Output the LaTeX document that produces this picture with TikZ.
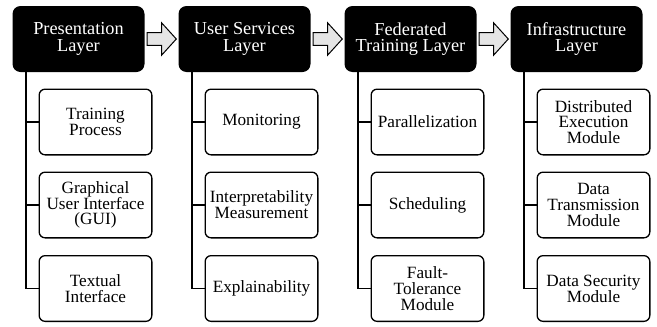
\documentclass[tikz,border=0pt]{standalone}
\usepackage{fontspec}
\setmainfont{Liberation Serif}
\usetikzlibrary{calc}
\begin{document}
\begin{tikzpicture}[x=1pt,y=-1pt,
  header/.style={fill=black,text=white,rounded corners=8pt,minimum width=132pt,minimum height=66pt,align=center,inner sep=0pt,font=\fontsize{18.3}{16.6}\selectfont},
  item/.style={draw=black,line width=1.3pt,fill=white,rounded corners=6pt,minimum width=112.7pt,minimum height=65.7pt,align=center,inner sep=0pt,font=\fontsize{17.2}{15.8}\selectfont},
  spine/.style={draw=black,line width=1.5pt},
  blockarrow/.style={draw=black,line width=1pt,fill=black!10,line join=miter}]
\useasboundingbox (0,0) rectangle (657,327);
% headers
\node[header] (h1) at (78.5,39) {Presentation\\Layer};
\node[header] (h2) at (244.5,39) {User Services\\Layer};
\node[header] (h3) at (410.5,39) {Federated\\Training Layer};
\node[header] (h4) at (576.5,39) {Infrastructure\\Layer};
% items
\node[item] (c11) at (95.5,122) {Training\\Process};
\node[item] (c12) at (95.5,205) {Graphical\\User Interface\\(GUI)};
\node[item] (c13) at (95.5,288.5) {Textual\\Interface};
\node[item] (c21) at (261.5,122) {Monitoring};
\node[item] (c22) at (261.5,205) {Interpretability\\Measurement};
\node[item] (c23) at (261.5,288.5) {Explainability};
\node[item] (c31) at (427.5,122) {Parallelization};
\node[item] (c32) at (427.5,205) {Scheduling};
\node[item] (c33) at (427.5,288.5) {Fault-\\Tolerance\\Module};
\node[item] (c41) at (593.5,122) {Distributed\\Execution\\Module};
\node[item] (c42) at (593.5,205) {Data\\Transmission\\Module};
\node[item] (c43) at (593.5,288.5) {Data Security\\Module};
% spines
\foreach \i in {1,2,3,4}{
  \coordinate (s\i) at ($(h\i.south west)+(13.5,0)$);
  \draw[spine] (s\i) |- (c\i3.west);
  \draw[spine] (s\i |- c\i1.west) -- (c\i1.west);
  \draw[spine] (s\i |- c\i2.west) -- (c\i2.west);
}
% block arrows
\foreach \a/\b in {h1/h2,h2/h3,h3/h4}{
  \coordinate (L) at ($(\a.east)+(2.5,0)$);
  \coordinate (T) at ($(\b.west)+(-2,0)$);
  \draw[blockarrow] ($(L)+(0,-6.3)$) -- ($(L)+(14.4,-6.3)$) -- ($(L)+(14.4,-16.2)$) -- (T)
    -- ($(L)+(14.4,16.2)$) -- ($(L)+(14.4,6.3)$) -- ($(L)+(0,6.3)$) -- cycle;
}
\end{tikzpicture}
\end{document}
